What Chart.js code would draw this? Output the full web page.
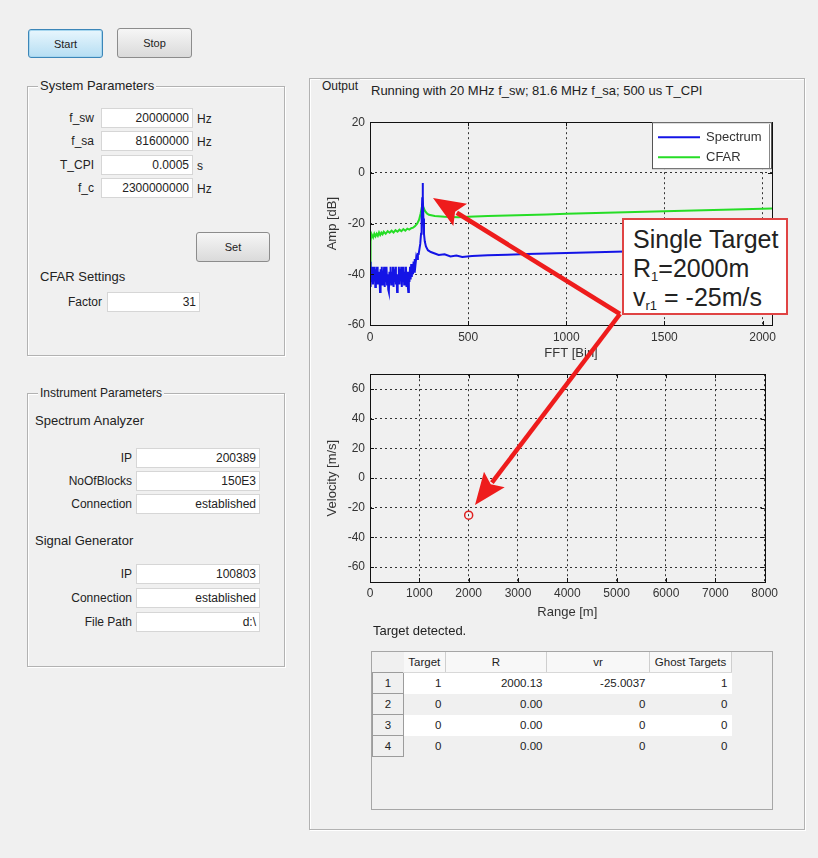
<!DOCTYPE html>
<html>
<head>
<meta charset="utf-8">
<script src="https://cdn.jsdelivr.net/npm/chart.js@4.4.1/dist/chart.umd.min.js"></script>
<style>
body { margin:0; background:#f0f0f0; font-family: Arial, "Liberation Sans", sans-serif; color:#222; }
#page { position:relative; width:818px; height:858px; overflow:hidden; background:#f0f0f0; }
.btn { position:absolute; box-sizing:border-box; border:1px solid #8c8c8c; border-radius:3px; background:linear-gradient(#f6f6f6,#dadada); font-size:11px; display:flex; align-items:center; justify-content:center; }
.btn.active { border-color:#3c86b8; background:linear-gradient(#e8f6fd,#b6def3); box-shadow: inset 0 0 0 1px #a6d6ef; }
.panel { position:absolute; box-sizing:border-box; border:1px solid #b2b2b2; box-shadow: 1px 1px 0 #fff, inset 1px 1px 0 #fff; }
.ptitle { position:absolute; background:#f0f0f0; padding:0 2px; font-size:13px; line-height:14px; white-space:nowrap; }
.txt { position:absolute; font-size:13px; line-height:14px; white-space:nowrap; }
.lbl { position:absolute; font-size:12px; line-height:20px; text-align:right; white-space:nowrap; }
.box { position:absolute; box-sizing:border-box; height:20px; background:#fff; border:1px solid #d6d6d6; font-size:12px; line-height:18px; text-align:right; padding-right:3px; white-space:nowrap; }
.unit { position:absolute; font-size:12px; line-height:20px; }
.cv { position:absolute; }
#tbl { position:absolute; left:371px; top:651px; width:402px; height:159px; box-sizing:border-box; border:1px solid #a6a6a6; background:#f0f0f0; }
#tbl table { border-collapse:collapse; font-size:11.5px; table-layout:fixed; }
#tbl td, #tbl th { height:20px; padding:0 4px 0 0; white-space:nowrap; font-weight:normal; }
#tbl th { background:#f8f8f8; border-right:1px solid #cfcfcf; border-bottom:1px solid #d8d8d8; text-align:center; padding:0; }
#tbl th.corner { background:#f0f0f0; border:none; }
#tbl td { text-align:right; }
#tbl td.rh { text-align:center; background:#f0f0f0; border:1px solid #9c9c9c; padding:0; }
#note { position:absolute; left:622px; top:218px; width:166px; height:97px; box-sizing:border-box; border:2px solid #e04444; background:#fff; font-size:25px; line-height:29px; padding:5px 0 0 9px; color:#222; white-space:nowrap; }
#note sub { font-size:13px; vertical-align:-4px; line-height:0; }
#arrows { position:absolute; left:0; top:0; }
</style>
</head>
<body>
<div id="page">
  <div class="btn active" style="left:28px;top:29px;width:75px;height:29px;">Start</div>
  <div class="btn" style="left:117px;top:28px;width:75px;height:30px;">Stop</div>

  <div class="panel" style="left:27px;top:86px;width:258px;height:270px;"></div>
  <div class="ptitle" style="left:38px;top:79px;">System Parameters</div>
  <div class="lbl" style="left:40px;top:108px;width:54px;">f_sw</div>
  <div class="box" style="left:101px;top:108px;width:92px;">20000000</div>
  <div class="unit" style="left:197px;top:109px;">Hz</div>
  <div class="lbl" style="left:40px;top:131px;width:54px;">f_sa</div>
  <div class="box" style="left:101px;top:131px;width:92px;">81600000</div>
  <div class="unit" style="left:197px;top:132px;">Hz</div>
  <div class="lbl" style="left:40px;top:155px;width:54px;">T_CPI</div>
  <div class="box" style="left:101px;top:155px;width:92px;">0.0005</div>
  <div class="unit" style="left:197px;top:156px;">s</div>
  <div class="lbl" style="left:40px;top:178px;width:54px;">f_c</div>
  <div class="box" style="left:101px;top:178px;width:92px;">2300000000</div>
  <div class="unit" style="left:197px;top:179px;">Hz</div>
  <div class="btn" style="left:196px;top:232px;width:74px;height:30px;">Set</div>
  <div class="txt" style="left:40px;top:270px;">CFAR Settings</div>
  <div class="lbl" style="left:40px;top:292px;width:62px;">Factor</div>
  <div class="box" style="left:107px;top:292px;width:93px;">31</div>

  <div class="panel" style="left:27px;top:393px;width:258px;height:274px;"></div>
  <div class="ptitle" style="left:38px;top:386px;font-size:12px;">Instrument Parameters</div>
  <div class="txt" style="left:35px;top:414px;">Spectrum Analyzer</div>
  <div class="lbl" style="left:40px;top:448px;width:92px;">IP</div>
  <div class="box" style="left:136px;top:448px;width:124px;">200389</div>
  <div class="lbl" style="left:40px;top:471px;width:92px;">NoOfBlocks</div>
  <div class="box" style="left:136px;top:471px;width:124px;">150E3</div>
  <div class="lbl" style="left:40px;top:494px;width:92px;">Connection</div>
  <div class="box" style="left:136px;top:494px;width:124px;">established</div>
  <div class="txt" style="left:35px;top:534px;">Signal Generator</div>
  <div class="lbl" style="left:40px;top:564px;width:92px;">IP</div>
  <div class="box" style="left:136px;top:564px;width:124px;">100803</div>
  <div class="lbl" style="left:40px;top:588px;width:92px;">Connection</div>
  <div class="box" style="left:136px;top:588px;width:124px;">established</div>
  <div class="lbl" style="left:40px;top:612px;width:92px;">File Path</div>
  <div class="box" style="left:136px;top:612px;width:124px;">d:\</div>

  <div class="panel" style="left:309px;top:78px;width:496px;height:752px;"></div>
  <div class="ptitle" style="left:320px;top:79px;font-size:12px;">Output</div>
  <div class="txt" style="left:371px;top:84px;">Running with 20 MHz f_sw; 81.6 MHz f_sa; 500 us T_CPI</div>

  <canvas id="specChart" class="cv" width="462" height="262" style="left:320px;top:110px;"></canvas>
  <canvas id="rvChart" class="cv" width="462" height="260" style="left:320px;top:362px;"></canvas>

  <div class="txt" style="left:373px;top:624px;">Target detected.</div>
  <div id="tbl"></div>

  <div id="note">Single Target<br>R<sub>1</sub>=2000m<br>v<sub>r1</sub> = -25m/s</div>
  <svg id="arrows" width="818" height="858"></svg>
</div>

<script>
// Axis ticks
const ampTicks = [-60, -40, -20, 0, 20];
const binTicks = [0, 500, 1000, 1500, 2000];
const rangeTicks = [0, 1000, 2000, 3000, 4000, 5000, 6000, 7000, 8000];
const velTicks = [-60, -40, -20, 0, 20, 40, 60];

// Spectrum [bin, dB]
const spectrumPoints = [
    [0,-35],[3,-45],[6,-38],[9,-43],[12,-37],[15,-44],[18,-39],[21,-42],[24,-37],[27,-45],
    [30,-38],[33,-43],[36,-37],[39,-44],[42,-39],[45,-44],[48,-40],[51,-47],[54,-38],[57,-43],
    [60,-37],[63,-44],[66,-39],[69,-42],[72,-37],[75,-45],[78,-38],[81,-43],[84,-37],[87,-44],
    [90,-40],[93,-46],[96,-47],[99,-39],[102,-43],[105,-37],[108,-44],[111,-39],[114,-42],[117,-37],
    [120,-45],[123,-38],[126,-43],[129,-37],[132,-44],[135,-40],[138,-47],[141,-40],[144,-43],[147,-37],
    [150,-44],[153,-38],[156,-42],[159,-37],[162,-45],[165,-38],[168,-43],[171,-37],[174,-44],[177,-39],
    [180,-42],[183,-37],[186,-45],[189,-39],[192,-44],[195,-47],[198,-39],[201,-43],[204,-37],[207,-42],
    [210,-36],[213,-41],[216,-36],[219,-40],[222,-35],[225,-39],[228,-34],
    [232,-36],[236,-33],[240,-34],[244,-32],[248,-32],[252,-30],[256,-28],[260,-24],[263,-18],[266,-10],
    [268,-4],[270,-9],[272,-18],[275,-24],[279,-27],[285,-29],[295,-30.5],[310,-31.2],[330,-31.8],[350,-32.4],
    [380,-32.1],[410,-33],[440,-32.6],[470,-33.2],[520,-32.8],[600,-32.5],[700,-32.3],[800,-32],[900,-31.8],
    [1000,-31.6],[1100,-31.4],[1200,-31.2],[1300,-31],[1400,-30.8],[1500,-30.6],[1600,-30.4],[1700,-30.2],
    [1800,-30],[1900,-29.8],[2048,-29.5]
];

// CFAR threshold [bin, dB]
const cfarPoints = [
    [0,-40],[2,-33],[4,-27],[6,-25],[10,-24.5],[16,-25.5],[22,-24],[28,-25],[34,-24],[40,-24.8],
    [46,-23.5],[52,-24.5],[58,-23.6],[64,-24.2],[70,-23.2],[80,-24],[90,-23],[100,-23.6],[110,-22.8],
    [120,-23.5],[130,-22.6],[140,-23.2],[150,-22.4],[160,-23],[170,-22.2],[180,-22.8],[190,-22],
    [200,-22.4],[210,-21.8],[220,-21.6],[230,-21],[240,-20],[250,-18.5],[258,-16],[264,-13.5],
    [268,-12.5],[272,-13.5],[280,-15],[290,-16],[300,-16.5],[330,-17],[380,-17.3],[450,-17.5],
    [500,-17.3],[600,-17],[700,-16.8],[800,-16.6],[900,-16.4],[1000,-16.1],[1100,-15.9],[1200,-15.7],
    [1300,-15.5],[1400,-15.3],[1500,-15.1],[1600,-14.9],[1700,-14.7],[1800,-14.5],[1900,-14.3],[2048,-14]
];

// Detected targets
const targetRange = [2000.13];
const targetVelocity = [-25.0037];

// Table
const tableHeaders = ['Target', 'R', 'vr', 'Ghost Targets'];
const tableTarget = ['1', '0', '0', '0'];
const tableR = ['2000.13', '0.00', '0.00', '0.00'];
const tableVr = ['-25.0037', '0', '0', '0'];
const tableGhost = ['1', '0', '0', '0'];

const FONT = "Arial, 'Liberation Sans', sans-serif";

// box around plot + inward tick marks (matlab style)
const boxPlugin = {
    id: 'boxPlugin',
    afterDatasetsDraw(chart) {
        const { ctx, chartArea: a, scales } = chart;
        ctx.save();
        ctx.strokeStyle = '#111';
        ctx.lineWidth = 1;
        ctx.setLineDash([]);
        ctx.beginPath();
        scales.x.ticks.forEach(t => {
            const px = Math.round(scales.x.getPixelForValue(t.value)) + 0.5;
            ctx.moveTo(px, a.bottom); ctx.lineTo(px, a.bottom - 4);
            ctx.moveTo(px, a.top); ctx.lineTo(px, a.top + 4);
        });
        scales.y.ticks.forEach(t => {
            const py = Math.round(scales.y.getPixelForValue(t.value)) + 0.5;
            ctx.moveTo(a.left, py); ctx.lineTo(a.left + 4, py);
            ctx.moveTo(a.right, py); ctx.lineTo(a.right - 4, py);
        });
        ctx.stroke();
        ctx.strokeRect(Math.round(a.left) + 0.5, Math.round(a.top) + 0.5, Math.round(a.right - a.left), Math.round(a.bottom - a.top));
        ctx.restore();
    }
};

// legend drawn inside top right corner
const insideLegend = {
    id: 'insideLegend',
    afterDraw(chart) {
        const { ctx, chartArea: a } = chart;
        const w = 120, h = 47;
        const x = a.right - w, y = a.top;
        ctx.save();
        ctx.fillStyle = '#fff';
        ctx.fillRect(x, y, w, h);
        ctx.strokeStyle = '#555';
        ctx.lineWidth = 1;
        ctx.strokeRect(x + 0.5, y + 0.5, w - 1, h - 1);
        ctx.strokeStyle = '#888';
        ctx.beginPath();
        ctx.moveTo(a.right - 2.5, y + 2); ctx.lineTo(a.right - 2.5, y + h - 1);
        ctx.stroke();
        ctx.font = '13px ' + FONT;
        ctx.textBaseline = 'middle';
        chart.data.datasets.forEach((ds, i) => {
            const ly = y + 15 + i * 20;
            ctx.strokeStyle = ds.borderColor;
            ctx.lineWidth = 2;
            ctx.beginPath();
            ctx.moveTo(x + 6, ly); ctx.lineTo(x + 48, ly);
            ctx.stroke();
            ctx.fillStyle = '#333';
            ctx.fillText(ds.label, x + 54, ly);
        });
        ctx.restore();
    }
};

function axis(ticks, min, max, title, opts) {
    return {
        type: 'linear',
        min: min,
        max: max,
        afterBuildTicks: s => { s.ticks = ticks.map(v => ({ value: v })); },
        afterFit: s => {
            if (s.isHorizontal()) s.height = opts.size; else s.width = opts.size;
        },
        grid: { color: '#333', lineWidth: 1, drawTicks: false },
        border: { display: false, dash: [2, 3] },
        ticks: {
            padding: opts.tickPad,
            color: '#333',
            font: { family: FONT, size: 12 },
            maxRotation: 0,
            autoSkip: false,
            callback: v => String(v)
        },
        title: {
            display: true,
            text: title,
            color: '#333',
            font: { family: FONT, size: 13 },
            padding: opts.titlePad
        }
    };
}

new Chart(document.getElementById('specChart'), {
    type: 'line',
    data: {
        datasets: [
            {
                label: 'Spectrum',
                data: spectrumPoints.map(p => ({ x: p[0], y: p[1] })),
                borderColor: '#1414e6',
                borderWidth: 2,
                pointRadius: 0,
                tension: 0
            },
            {
                label: 'CFAR',
                data: cfarPoints.map(p => ({ x: p[0], y: p[1] })),
                borderColor: '#26dd26',
                borderWidth: 2,
                pointRadius: 0,
                tension: 0
            }
        ]
    },
    options: {
        responsive: false,
        animation: false,
        layout: { padding: { top: 11, right: 10, left: 0, bottom: 0 } },
        plugins: { legend: { display: false }, tooltip: { enabled: false } },
        scales: {
            x: axis(binTicks, 0, 2048, 'FFT [Bin]', { size: 47, tickPad: 5, titlePad: { top: 0, bottom: 11 } }),
            y: axis(ampTicks, -60, 20, 'Amp [dB]', { size: 50, tickPad: 5, titlePad: { top: 5, bottom: 0 } })
        }
    },
    plugins: [boxPlugin, insideLegend]
});

new Chart(document.getElementById('rvChart'), {
    type: 'scatter',
    data: {
        datasets: [{
            label: 'Targets',
            data: targetRange.map((r, i) => ({ x: r, y: targetVelocity[i] })),
            pointStyle: 'circle',
            pointRadius: 4,
            borderColor: '#e02020',
            backgroundColor: 'rgba(0,0,0,0)',
            borderWidth: 1.5
        }]
    },
    options: {
        responsive: false,
        animation: false,
        layout: { padding: { top: 10, right: 12, left: 0, bottom: 0 } },
        plugins: { legend: { display: false }, tooltip: { enabled: false } },
        scales: {
            x: axis(rangeTicks, 0, 8000, 'Range [m]', { size: 40, tickPad: 4, titlePad: { top: 0, bottom: 2 } }),
            y: axis(velTicks, -70, 70, 'Velocity [m/s]', { size: 50, tickPad: 5, titlePad: { top: 5, bottom: 0 } })
        }
    },
    plugins: [boxPlugin]
});

// results table
const colW = [31, 42, 101, 103, 82];
let html = '<table><colgroup>' + colW.map(w => '<col style="width:' + w + 'px">').join('') + '</colgroup>';
html += '<tr><th class="corner"></th>' + tableHeaders.map(h => '<th>' + h + '</th>').join('') + '</tr>';
tableTarget.forEach((t, i) => {
    const bg = i % 2 === 0 ? '#ffffff' : '#f0f0f0';
    html += '<tr style="background:' + bg + '"><td class="rh">' + (i + 1) + '</td>' +
        '<td>' + t + '</td><td>' + tableR[i] + '</td><td>' + tableVr[i] + '</td><td>' + tableGhost[i] + '</td></tr>';
});
html += '</table>';
document.getElementById('tbl').innerHTML = html;

// red annotation arrows
const svg = document.getElementById('arrows');
function arrow(x1, y1, x2, y2) {
    const dx = x2 - x1, dy = y2 - y1, L = Math.hypot(dx, dy);
    const ux = dx / L, uy = dy / L, hl = 32, hw = 13;
    const bx = x2 - ux * hl, by = y2 - uy * hl;
    const ns = 'http://www.w3.org/2000/svg';
    const line = document.createElementNS(ns, 'line');
    line.setAttribute('x1', x1); line.setAttribute('y1', y1);
    line.setAttribute('x2', bx + ux * 4); line.setAttribute('y2', by + uy * 4);
    line.setAttribute('stroke', '#ee1c1c'); line.setAttribute('stroke-width', 4.5);
    svg.appendChild(line);
    const head = document.createElementNS(ns, 'polygon');
    head.setAttribute('points', [x2, y2, bx - uy * hw, by + ux * hw, bx + ux * 6, by + uy * 6, bx + uy * hw, by - ux * hw].join(' '));
    head.setAttribute('fill', '#ee1c1c');
    svg.appendChild(head);
}
arrow(620, 314, 433, 198);
arrow(620, 314, 475, 505);
</script>
</body>
</html>
